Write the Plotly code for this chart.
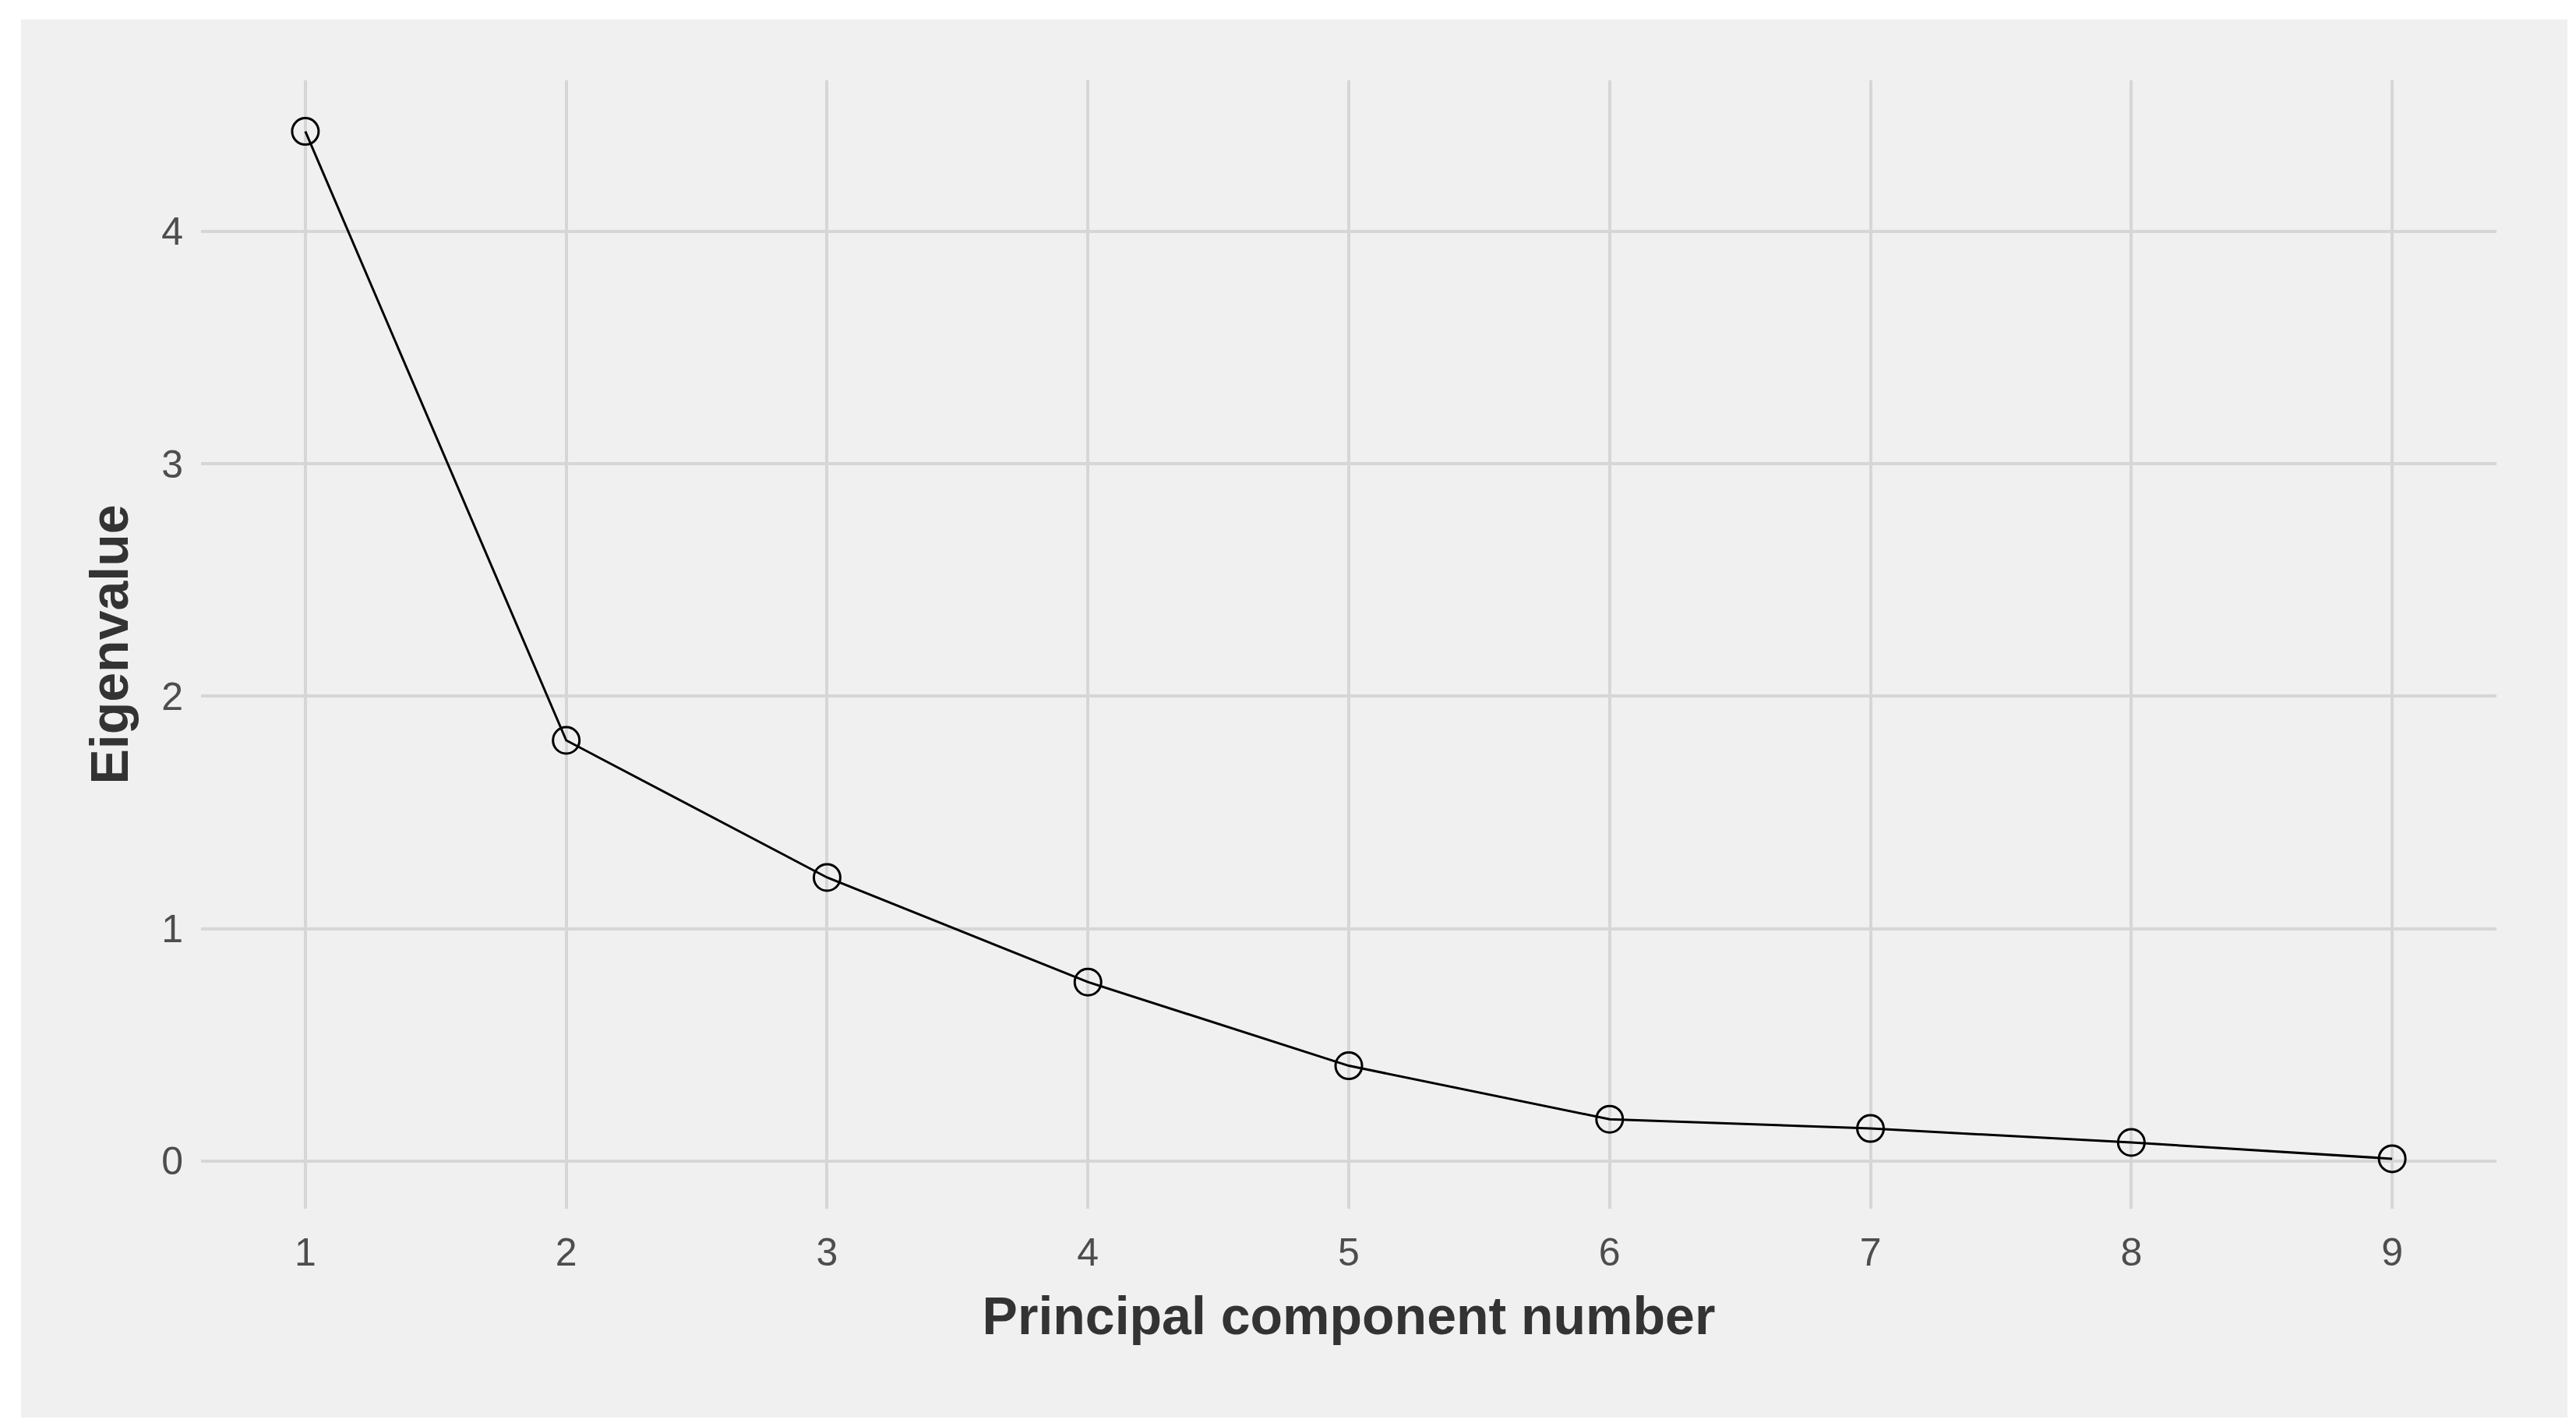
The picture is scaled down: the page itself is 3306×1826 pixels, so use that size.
import plotly.graph_objects as go

components = [1, 2, 3, 4, 5, 6, 7, 8, 9]
eigenvalues = [4.43, 1.81, 1.22, 0.77, 0.41, 0.18, 0.14, 0.08, 0.01]

fig = go.Figure(go.Scatter(
    x=components, y=eigenvalues, mode="lines+markers",
    line=dict(color="black", width=3),
    marker=dict(symbol="circle-open", size=34, color="black", line=dict(width=3)),
))
W, H = 3306, 1826
l, r, t, b = 250, 110, 95, 283
pw, ph = W - l - r, H - t - b
fig.add_shape(type="rect", xref="paper", yref="paper", layer="below",
              x0=(19 - l) / pw, x1=(3287 - l) / pw,
              y0=-(1811 - (H - b)) / ph, y1=1 + (t - 17) / ph,
              fillcolor="#f0f0f0", line=dict(width=0))
fig.update_layout(
    width=W, height=H, margin=dict(l=l, r=r, t=t, b=b),
    paper_bgcolor="white", plot_bgcolor="#f0f0f0", showlegend=False,
    font=dict(family="Liberation Sans, Arial", color="#4d4d4d", size=50),
)
fig.update_xaxes(range=[0.6, 9.4], tickvals=components, showgrid=True, gridcolor="#d6d6d6",
                 gridwidth=4, zeroline=False, ticks="", ticklabelstandoff=22,
                 title=dict(text="<b>Principal component number</b>", font=dict(size=68, color="#333333"), standoff=30))
fig.update_yaxes(range=[-0.205, 4.65], tickvals=[0, 1, 2, 3, 4], showgrid=True, gridcolor="#d6d6d6",
                 gridwidth=4, zeroline=False, ticks="", ticklabelstandoff=22,
                 title=dict(text="<b>Eigenvalue</b>", font=dict(size=68, color="#333333"), standoff=20))
fig.write_html("out.html")
